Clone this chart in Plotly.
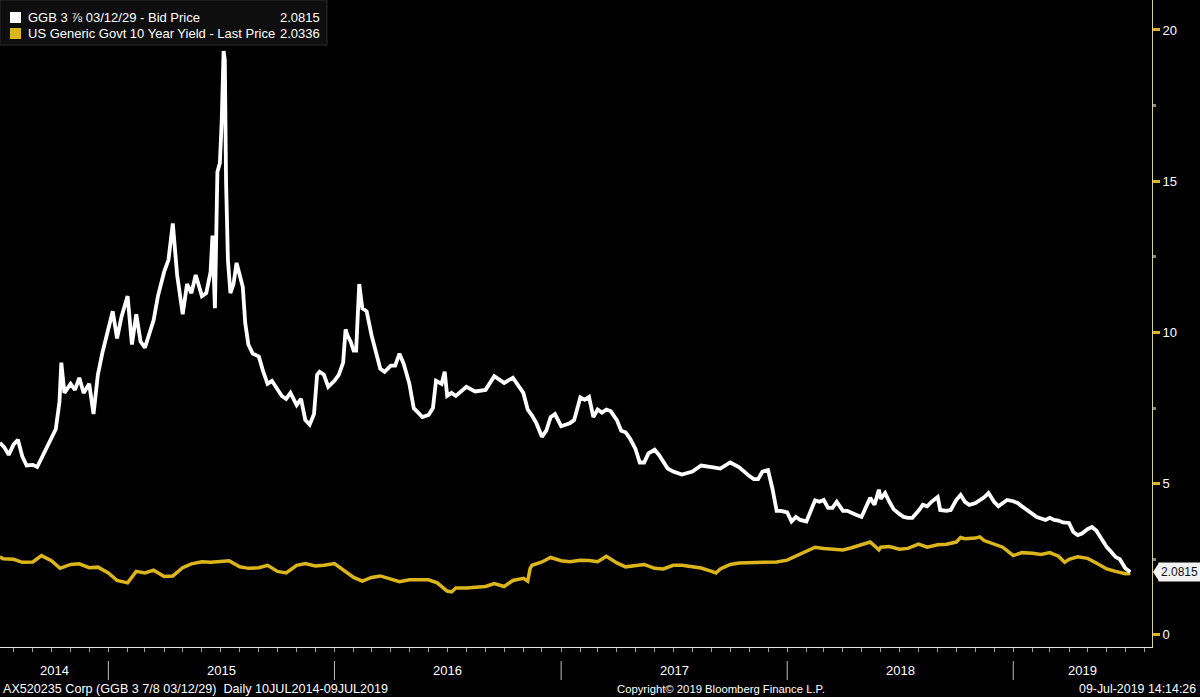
import plotly.graph_objects as go
import pandas as pd

# ---------------- data ----------------
ggb_dates = [
    "2014-07-10","2014-07-17","2014-07-24","2014-08-01","2014-08-08","2014-08-15","2014-08-22",
    "2014-09-01","2014-09-08","2014-09-15","2014-09-22","2014-10-01","2014-10-08","2014-10-14",
    "2014-10-17","2014-10-22","2014-11-01","2014-11-08","2014-11-15","2014-11-22","2014-12-01",
    "2014-12-08","2014-12-15","2014-12-22","2015-01-01","2015-01-08","2015-01-15","2015-01-22",
    "2015-02-01","2015-02-08","2015-02-15","2015-02-22","2015-03-01","2015-03-08","2015-03-15",
    "2015-03-22","2015-04-01","2015-04-08","2015-04-15","2015-04-22","2015-05-01","2015-05-08",
    "2015-05-15","2015-05-22","2015-06-01","2015-06-08","2015-06-15","2015-06-18","2015-06-22",
    "2015-06-26","2015-06-30","2015-07-03","2015-07-06","2015-07-08","2015-07-10","2015-07-13",
    "2015-07-17","2015-07-22","2015-07-27","2015-08-01","2015-08-06","2015-08-10","2015-08-15",
    "2015-08-22","2015-09-01","2015-09-08","2015-09-15","2015-09-22","2015-10-01","2015-10-08",
    "2015-10-15","2015-10-22","2015-11-01","2015-11-08","2015-11-15","2015-11-22","2015-11-29",
    "2015-12-04","2015-12-08","2015-12-15","2015-12-22","2016-01-01","2016-01-08","2016-01-15",
    "2016-01-19","2016-01-22","2016-01-27","2016-02-01","2016-02-05","2016-02-10","2016-02-15",
    "2016-02-22","2016-03-01","2016-03-08","2016-03-15","2016-03-22","2016-04-01","2016-04-08",
    "2016-04-15","2016-04-22","2016-05-01","2016-05-08","2016-05-15","2016-05-22","2016-06-01",
    "2016-06-08","2016-06-13","2016-06-22","2016-06-27","2016-07-01","2016-07-08","2016-07-15",
    "2016-08-01","2016-08-15","2016-09-01","2016-09-15","2016-10-01","2016-10-15","2016-11-01",
    "2016-11-08","2016-11-15","2016-11-22","2016-12-01","2016-12-08","2016-12-15","2016-12-22",
    "2017-01-01","2017-01-15","2017-01-22","2017-02-01","2017-02-08","2017-02-15","2017-02-22",
    "2017-03-01","2017-03-08","2017-03-15","2017-03-22","2017-04-01","2017-04-08","2017-04-15",
    "2017-04-22","2017-05-01","2017-05-08","2017-05-15","2017-05-22","2017-06-01","2017-06-08",
    "2017-06-15","2017-06-22","2017-07-01","2017-07-15","2017-08-01","2017-08-15","2017-09-01",
    "2017-09-15","2017-10-01","2017-10-15","2017-11-01","2017-11-08","2017-11-15","2017-11-22",
    "2017-12-01","2017-12-05","2017-12-08","2017-12-15","2017-12-22","2018-01-01","2018-01-08",
    "2018-01-15","2018-01-22","2018-02-01","2018-02-08","2018-02-15","2018-02-22","2018-03-01",
    "2018-03-08","2018-03-15","2018-03-22","2018-04-01","2018-04-08","2018-04-15","2018-04-22",
    "2018-05-01","2018-05-08","2018-05-15","2018-05-22","2018-05-29","2018-06-01","2018-06-08",
    "2018-06-15","2018-06-22","2018-07-01","2018-07-08","2018-07-15","2018-07-22","2018-08-01",
    "2018-08-08","2018-08-15","2018-08-22","2018-09-01","2018-09-05","2018-09-15","2018-09-22",
    "2018-10-01","2018-10-08","2018-10-15","2018-10-22","2018-11-01","2018-11-08","2018-11-15",
    "2018-11-22","2018-12-01","2018-12-08","2018-12-15","2018-12-22","2019-01-01","2019-01-08",
    "2019-01-15","2019-01-22","2019-02-01","2019-02-08","2019-02-15","2019-02-22","2019-03-01",
    "2019-03-08","2019-03-15","2019-03-22","2019-04-01","2019-04-08","2019-04-15","2019-04-22",
    "2019-05-01","2019-05-08","2019-05-15","2019-05-22","2019-06-01","2019-06-08","2019-06-15",
    "2019-06-22","2019-07-01","2019-07-09",
]
ggb_values = [
    6.35, 6.2, 5.95, 6.3, 6.45, 5.9, 5.6,
    5.62, 5.55, 5.85, 6.1, 6.5, 6.8, 7.7,
    9.0, 8.0, 8.3, 8.1, 8.5, 8.0, 8.3,
    7.3, 8.6, 9.3, 10.2, 10.7, 9.8, 10.5,
    11.2, 9.6, 10.6, 9.7, 9.5, 10.0, 10.4,
    11.2, 12.0, 12.4, 13.6, 11.9, 10.6, 11.6,
    11.3, 11.9, 11.2, 11.3, 12.0, 13.2, 10.8,
    15.3, 15.6, 17.0, 19.3, 19.0, 15.0, 12.4,
    11.3, 11.6, 12.3, 11.9, 11.5, 10.3, 9.6,
    9.3, 9.2, 8.7, 8.3, 8.4, 8.1, 7.9,
    7.8, 8.0, 7.6, 7.8, 7.1, 6.95, 7.3,
    8.6, 8.7, 8.6, 8.2, 8.4, 8.6, 9.0,
    10.1, 9.9, 9.7, 9.4, 9.4, 11.6, 10.8,
    10.7, 9.9, 9.3, 8.8, 8.7, 8.9, 8.9,
    9.3, 8.95, 8.3, 7.5, 7.35, 7.2, 7.27,
    7.5, 8.4, 8.3, 8.7, 7.9, 8.0, 7.9,
    8.2, 8.05, 8.1, 8.55, 8.33, 8.5, 8.0,
    7.45, 7.25, 7.0, 6.55, 6.75, 7.2, 7.3,
    6.9, 7.0, 7.1, 7.85, 7.77, 7.87, 7.2,
    7.45, 7.35, 7.45, 7.4, 7.1, 6.75, 6.7,
    6.5, 6.15, 5.7, 5.7, 6.0, 6.12, 5.95,
    5.7, 5.5, 5.4, 5.3, 5.4, 5.6, 5.55,
    5.5, 5.7, 5.55, 5.25, 5.15, 5.15, 5.4,
    5.45, 5.1, 4.85, 4.1, 4.1, 4.05, 3.75,
    3.9, 3.8, 3.75, 4.1, 4.45, 4.4, 4.46,
    4.2, 4.2, 4.4, 4.1, 4.1, 4.05, 3.97,
    3.9, 4.2, 4.53, 4.3, 4.8, 4.5, 4.69,
    4.4, 4.15, 4.0, 3.9, 3.87, 3.87, 4.1,
    4.3, 4.25, 4.4, 4.56, 4.13, 4.1, 4.13,
    4.46, 4.63, 4.4, 4.3, 4.36, 4.46, 4.55,
    4.69, 4.4, 4.25, 4.36, 4.46, 4.42, 4.36,
    4.25, 4.15, 4.0, 3.9, 3.85, 3.8, 3.87,
    3.8, 3.78, 3.72, 3.7, 3.4, 3.3, 3.35,
    3.5, 3.57, 3.45, 3.2, 2.9, 2.75, 2.58,
    2.5, 2.2, 2.0815,
]

ust_dates = [
    "2014-07-10","2014-07-15","2014-08-01","2014-08-15","2014-09-01","2014-09-15","2014-10-01",
    "2014-10-15","2014-11-01","2014-11-15","2014-12-01","2014-12-15","2015-01-01","2015-01-15",
    "2015-02-01","2015-02-15","2015-03-01","2015-03-15","2015-04-01","2015-04-15","2015-05-01",
    "2015-05-15","2015-06-01","2015-06-15","2015-07-01","2015-07-15","2015-08-01","2015-08-15",
    "2015-09-01","2015-09-15","2015-10-01","2015-10-15","2015-11-01","2015-11-15","2015-12-01",
    "2015-12-15","2016-01-01","2016-01-15","2016-02-01","2016-02-15","2016-03-01","2016-03-15",
    "2016-04-01","2016-04-15","2016-05-01","2016-05-15","2016-06-01","2016-06-15","2016-07-01",
    "2016-07-08","2016-07-15","2016-08-01","2016-08-15","2016-09-01","2016-09-15","2016-10-01",
    "2016-10-15","2016-11-01","2016-11-08","2016-11-12","2016-11-15","2016-12-01","2016-12-15",
    "2017-01-01","2017-01-15","2017-02-01","2017-02-15","2017-03-01","2017-03-15","2017-04-01",
    "2017-04-15","2017-05-01","2017-05-15","2017-06-01","2017-06-15","2017-07-01","2017-07-15",
    "2017-08-01","2017-08-15","2017-09-01","2017-09-08","2017-09-15","2017-10-01","2017-10-15",
    "2017-11-01","2017-11-15","2017-12-01","2017-12-15","2018-01-01","2018-01-15","2018-02-01",
    "2018-02-15","2018-03-01","2018-03-15","2018-04-01","2018-04-15","2018-05-01","2018-05-15",
    "2018-05-29","2018-06-01","2018-06-15","2018-07-01","2018-07-15","2018-08-01","2018-08-15",
    "2018-09-01","2018-09-15","2018-10-01","2018-10-08","2018-10-15","2018-11-01","2018-11-08",
    "2018-11-15","2018-12-01","2018-12-15","2019-01-01","2019-01-15","2019-02-01","2019-02-15",
    "2019-03-01","2019-03-15","2019-03-25","2019-04-01","2019-04-15","2019-05-01","2019-05-15",
    "2019-06-01","2019-06-15","2019-07-01","2019-07-09",
]
ust_values = [
    2.58, 2.52, 2.5, 2.4, 2.41, 2.62, 2.45,
    2.2, 2.33, 2.35, 2.22, 2.24, 2.05, 1.8,
    1.72, 2.1, 2.05, 2.14, 1.93, 1.95, 2.22,
    2.35, 2.42, 2.4, 2.43, 2.45, 2.25, 2.2,
    2.22, 2.3, 2.1, 2.05, 2.3, 2.36, 2.28,
    2.3, 2.36, 2.15, 1.9, 1.78, 1.9, 1.95,
    1.83, 1.76, 1.82, 1.82, 1.82, 1.72, 1.45,
    1.42, 1.55, 1.55, 1.58, 1.6, 1.7, 1.6,
    1.8, 1.87, 1.78, 2.2, 2.3, 2.41, 2.56,
    2.45, 2.42, 2.47, 2.46, 2.42, 2.6, 2.38,
    2.25, 2.3, 2.33, 2.2, 2.18, 2.3, 2.3,
    2.25, 2.21, 2.1, 2.05, 2.18, 2.33, 2.38,
    2.39, 2.38, 2.39, 2.41, 2.47, 2.6, 2.75,
    2.9, 2.86, 2.85, 2.81, 2.88, 2.98, 3.07,
    2.81, 2.9, 2.92, 2.83, 2.86, 3.0, 2.9,
    2.98, 3.0, 3.07, 3.22, 3.18, 3.2, 3.24,
    3.12, 3.0, 2.9, 2.62, 2.72, 2.7, 2.66,
    2.72, 2.6, 2.4, 2.5, 2.58, 2.53, 2.38,
    2.18, 2.1, 2.02, 2.0336,
]

series_names = ["GGB 3 \u215e 03/12/29 - Bid Price",
                "US Generic Govt 10 Year Yield - Last Price"]
series_last = ["2.0815", "2.0336"]
year_labels = ["2014", "2015", "2016", "2017", "2018", "2019"]
y_ticks = [0, 5, 10, 15, 20]
x_start, x_end = "2014-07-10", "2019-08-13"
footer_left = "AX520235 Corp (GGB 3 7/8 03/12/29)  Daily 10JUL2014-09JUL2019"
footer_mid = "Copyright\u00a9 2019 Bloomberg Finance L.P."
footer_right = "09-Jul-2019 14:14:26"

WHITE = "#ffffff"
GOLD = "#dcb51c"
FONT = "Liberation Sans"

# ---------------- figure ----------------
W, H = 1200, 697
ML, MR, MT, MB = 0, 48, 0, 50
PW, PH = W - ML - MR, H - MT - MB

def px(x):
    return x / PW

def py(y):
    return 1 - y / PH

fig = go.Figure()
fig.add_trace(go.Scatter(x=pd.to_datetime(ust_dates), y=ust_values, mode="lines",
                         line=dict(color=GOLD, width=3.5), name=series_names[1],
                         showlegend=False))
fig.add_trace(go.Scatter(x=pd.to_datetime(ggb_dates), y=ggb_values, mode="lines",
                         line=dict(color=WHITE, width=3.8), name=series_names[0],
                         showlegend=False))

fig.update_layout(
    width=W, height=H,
    margin=dict(l=ML, r=MR, t=MT, b=MB),
    paper_bgcolor="#000000", plot_bgcolor="#000000",
    font=dict(family=FONT, color="#ffffff", size=12),
    xaxis=dict(type="date", range=[x_start, x_end], showgrid=False, zeroline=False,
               showline=True, linecolor="#e8e8e8", linewidth=1,
               ticks="outside", tickcolor="#9a9a9a", ticklen=4, tickwidth=1,
               dtick="M1", tick0="2014-08-01", showticklabels=False, fixedrange=True),
    yaxis=dict(side="right", range=[-0.4, 20.99], showgrid=False, zeroline=False,
               showline=True, linecolor="#d8cfa4", linewidth=1,
               tickvals=y_ticks, ticktext=[str(v) for v in y_ticks],
               ticks="outside", tickcolor=GOLD, ticklen=7, tickwidth=3,
               tickfont=dict(family=FONT, size=13, color="#ffffff"),
               minor=dict(dtick=2.5, ticks="outside", ticklen=3, tickcolor="#888888"),
               fixedrange=True),
)

shapes = []
annotations = []

# legend box
shapes.append(dict(type="rect", xref="paper", yref="paper",
                   x0=px(0), x1=px(327), y0=py(45), y1=py(0),
                   fillcolor="#0e0e0e", line=dict(color="#2a2a2a", width=1), layer="above"))
for i, (name, val, col) in enumerate(zip(series_names, series_last, [WHITE, GOLD])):
    yc = 17 + i * 16
    shapes.append(dict(type="rect", xref="paper", yref="paper",
                       x0=px(10), x1=px(21), y0=py(yc + 6), y1=py(yc - 5),
                       fillcolor=col, line=dict(width=0), layer="above"))
    annotations.append(dict(xref="paper", yref="paper", x=px(26), y=py(yc),
                            text=name, showarrow=False, xanchor="left", yanchor="middle",
                            font=dict(family=FONT, size=13, color="#ffffff")))
    annotations.append(dict(xref="paper", yref="paper", x=px(322), y=py(yc),
                            text=val, showarrow=False, xanchor="right", yanchor="middle",
                            font=dict(family=FONT, size=13, color="#ffffff")))

# last value label on right axis
last_val = ggb_values[-1]
shapes.append(dict(type="path", xref="paper", yref="y",
                   path=f"M {px(PW + 1)} {last_val} L {px(PW + 7)} {last_val + 0.3} "
                        f"L {px(PW + 7)} {last_val - 0.3} Z",
                   fillcolor="#f2f2f2", line=dict(width=0), layer="above"))
annotations.append(dict(xref="paper", yref="y", x=px(PW + 6), y=last_val,
                        text=series_last[0], showarrow=False, xanchor="left",
                        yanchor="middle", bgcolor="#f2f2f2", borderpad=2,
                        font=dict(family=FONT, size=12, color="#111111")))

# year separators and labels
start = pd.Timestamp(x_start)
end = pd.Timestamp(x_end)
for yl in year_labels:
    y0 = max(pd.Timestamp(f"{yl}-01-01"), start)
    y1 = min(pd.Timestamp(f"{int(yl) + 1}-01-01"), end)
    mid = y0 + (y1 - y0) / 2
    annotations.append(dict(xref="x", yref="paper", x=mid, y=py(670), text=yl,
                            showarrow=False, xanchor="center", yanchor="middle",
                            font=dict(family=FONT, size=13, color="#ffffff")))
    if pd.Timestamp(f"{yl}-01-01") > start:
        shapes.append(dict(type="line", xref="x", yref="paper",
                           x0=f"{yl}-01-01", x1=f"{yl}-01-01", y0=py(661), y1=py(680),
                           line=dict(color="#bbbbbb", width=1)))

# footer
annotations.append(dict(xref="paper", yref="paper", x=px(1), y=py(689), text=footer_left,
                        showarrow=False, xanchor="left", yanchor="middle",
                        font=dict(family=FONT, size=12.6, color="#ffffff")))
annotations.append(dict(xref="paper", yref="paper", x=px(615), y=py(689), text=footer_mid,
                        showarrow=False, xanchor="left", yanchor="middle",
                        font=dict(family=FONT, size=11.3, color="#ffffff")))
annotations.append(dict(xref="paper", yref="paper", x=px(1198), y=py(689), text=footer_right,
                        showarrow=False, xanchor="right", yanchor="middle",
                        font=dict(family=FONT, size=12.4, color="#ffffff")))

fig.update_layout(shapes=shapes, annotations=annotations)
fig.write_html("out.html")
